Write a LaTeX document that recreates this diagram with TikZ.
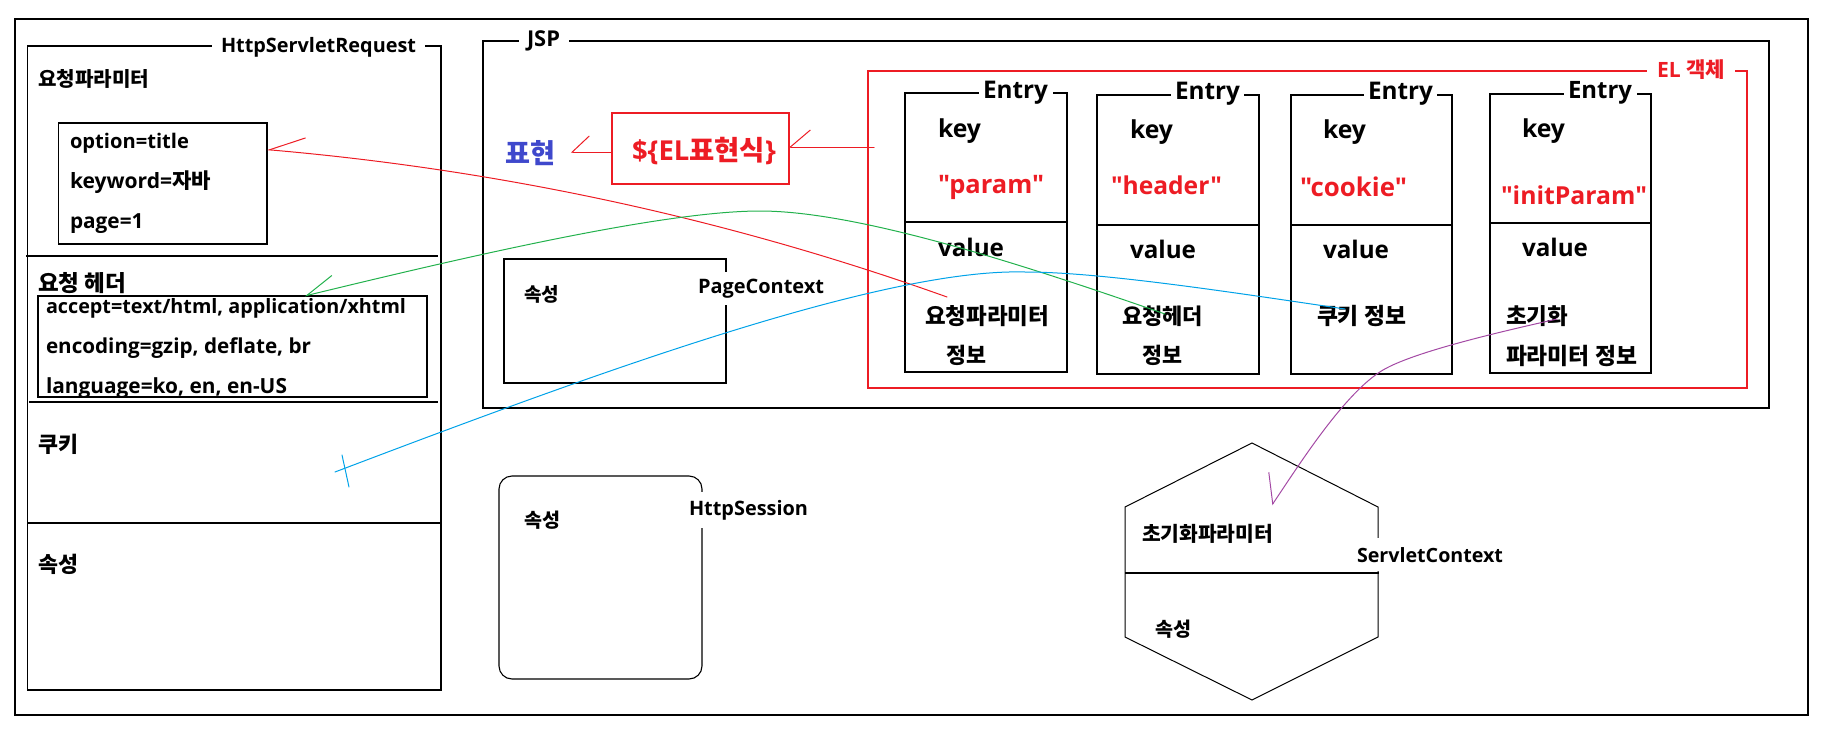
\documentclass[tikz,border=0pt]{standalone}
\usepackage{fontspec}
\usepackage{graphicx}
\newfontfamily\lat{Open Sans}
\newfontfamily\krfont{Noto Sans CJK KR}
\usetikzlibrary{arrows.meta,calc}
\definecolor{elred}{HTML}{ED1C24}
\definecolor{elblue}{HTML}{3F48CC}
\definecolor{elgreen}{HTML}{22B14C}
\definecolor{elcyan}{HTML}{00A2E8}
\definecolor{elpurple}{HTML}{A349A4}
\newcommand{\fitw}[2]{\resizebox{#1pt}{!}{#2}}
\newcommand{\hk}[1]{{\krfont #1}}
\tikzset{
  barbP/.tip={Straight Barb[right, length=35pt, width=30pt]},
  barbG/.tip={Straight Barb[right, length=29pt, width=27pt]},
  barbV/.tip={Straight Barb[right, length=24pt, width=42pt]},
  barbX/.tip={Straight Barb[right, length=17pt, width=32pt]},
  barbE/.tip={Straight Barb[right, length=20pt, width=34pt]},
}
\begin{document}
\begin{tikzpicture}[x=1pt,y=-1pt,
  box/.style={draw=black, line width=1.3pt, inner sep=0pt, outer sep=0pt, anchor=north west},
  redbox/.style={box, draw=elred, line width=1.1pt},
  divider/.style={draw=black, line width=1.3pt},
  txt/.style={inner sep=0pt, outer sep=0pt, anchor=base west, font=\lat\bfseries},
  krtxt/.style={txt, font=\krfont\bfseries},
  boxtitle/.style={fill=white, inner ysep=2pt, outer sep=0pt, anchor=base, font=\lat\bfseries},
  wire/.style={line width=1pt, line cap=round, line join=round},
]
\useasboundingbox (0,0) rectangle (1828,736);
% ---------- boxes ----------
\node[box, minimum width=1793pt, minimum height=696pt] (outer) at (15,19) {};
\node[box, minimum width=413.4pt, minimum height=644pt] (req) at (27.6,46) {};
\draw[divider] (26,256) -- (438,256);
\draw[divider] (29,402) -- (438,402);
\draw[divider] (req.west |- 0,523) -- (req.east |- 0,523);
\node[box, minimum width=208.5pt, minimum height=121pt] (params) at (58.5,123) {};
\node[box, minimum width=389pt, minimum height=101pt] (hdr) at (38,296) {};
\node[box, minimum width=1286pt, minimum height=367pt] (jsp) at (483,41) {};
\node[redbox, minimum width=177pt, minimum height=71pt] (elexpr) at (612,113) {};
\node[box, minimum width=222pt, minimum height=124pt] (page) at (504,259) {};
\node[redbox, minimum width=879pt, minimum height=317pt] (elobj) at (868,71) {};
\node[box, minimum width=162pt, minimum height=279pt] (e1) at (905,93) {};
\node[box, minimum width=162pt, minimum height=279pt] (e2) at (1097,95) {};
\node[box, minimum width=161pt, minimum height=279pt] (e3) at (1291,95) {};
\node[box, minimum width=161pt, minimum height=279pt] (e4) at (1490,94) {};
\draw[divider] (e1.west |- 0,222) -- (e1.east |- 0,222);
\draw[divider] (e2.west |- 0,225) -- (e2.east |- 0,225);
\draw[divider] (e3.west |- 0,225) -- (e3.east |- 0,225);
\draw[divider] (e4.west |- 0,223) -- (e4.east |- 0,223);
\node[box, rounded corners=13pt, line width=1.1pt, minimum width=203pt, minimum height=203pt] (sess) at (499,476) {};
\coordinate (hxT) at (1252,443);
\coordinate (hxUL) at (1125,507);
\coordinate (hxUR) at (1378,507);
\coordinate (hxLL) at (1125,637);
\coordinate (hxLR) at (1378,637);
\coordinate (hxB) at (1252,700);
\draw[line width=1pt, line join=miter] (hxT) -- (hxUR) -- (hxLR) -- (hxB) -- (hxLL) -- (hxUL) -- cycle;
% ---------- box titles ----------
\node[boxtitle, inner xsep=9pt] (reqT) at (318.5,52.5) {\fitw{195}{HttpServletRequest}};
\node[boxtitle, inner xsep=8.5pt] (jspT) at (543.5,46) {\fitw{33}{JSP}};
\node[boxtitle, inner xsep=10pt, text=elred] (elobjT) at (1691,77) {\fitw{68}{EL \hk{객체}}};
\node[boxtitle, inner xsep=4.5pt] (e1T) at (1015.5,98) {\fitw{65}{Entry}};
\node[boxtitle, inner xsep=4pt] (e2T) at (1207.5,99) {\fitw{65}{Entry}};
\node[boxtitle, inner xsep=4pt] (e3T) at (1400.5,99) {\fitw{65}{Entry}};
\node[boxtitle, inner xsep=4.5pt] (e4T) at (1600,98) {\fitw{64}{Entry}};
\node[boxtitle, inner xsep=3pt, inner ysep=7pt] (pageT) at (761,293) {\fitw{126}{PageContext}};
\node[boxtitle, inner xsep=3pt, inner ysep=8pt] (sessT) at (748.5,515) {\fitw{119}{HttpSession}};
\node[boxtitle, inner xsep=3pt, inner ysep=9pt] (scT) at (1430,562) {\fitw{146}{ServletContext}};
\draw[divider] (hxUL |- 0,573) -- (1379,573);
% ---------- HttpServletRequest texts ----------
\node[krtxt] (reqParam) at (38,86) {\fitw{111}{요청파라미터}};
\node[txt] (p1) at (70,148) {\fitw{119}{option=title}};
\node[txt] (p2) at (70,188) {\fitw{141}{keyword=\hk{자바}}};
\node[txt] (p3) at (70,228) {\fitw{73.5}{page=1}};
\node[krtxt] (reqHdr) at (38,291) {\fitw{88}{요청 헤더}};
\node[txt] (h1) at (46,313) {\fitw{360}{accept=text/html, application/xhtml}};
\node[txt] (h2) at (46,353) {\fitw{265}{encoding=gzip, deflate, br}};
\node[txt] (h3) at (46,393) {\fitw{241}{language=ko, en, en-US}};
\node[krtxt] (reqCookie) at (38,452) {\fitw{40}{쿠키}};
\node[krtxt] (reqAttr) at (38,572) {\fitw{40}{속성}};
% ---------- JSP texts ----------
\node[krtxt, text=elblue] (pyo) at (505,163) {\fitw{50}{표현}};
\node[txt, text=elred] (elx) at (632,160) {\fitw{144}{\$\{EL\hk{표현식}\}}};
\node[krtxt] (pageAttr) at (524,301) {\fitw{35}{속성}};
\node[txt] (k1) at (938,137) {\fitw{43}{key}};
\node[txt] (k2) at (1130,138) {\fitw{43}{key}};
\node[txt] (k3) at (1323,138) {\fitw{43}{key}};
\node[txt] (k4) at (1522,137) {\fitw{43}{key}};
\node[txt, text=elred] (q1) at (938,193) {\fitw{106}{"param"}};
\node[txt, text=elred] (q2) at (1111,194) {\fitw{111}{"header"}};
\node[txt, text=elred] (q3) at (1300,196) {\fitw{107}{"cookie"}};
\node[txt, text=elred] (q4) at (1501,204) {\fitw{146}{"initParam"}};
\node[txt] (val1) at (938,256) {\fitw{66}{value}};
\node[txt] (val2) at (1130,258) {\fitw{66}{value}};
\node[txt] (val3) at (1323,258) {\fitw{66}{value}};
\node[txt] (val4) at (1522,256) {\fitw{66}{value}};
\node[krtxt] (v1) at (925,324) {\fitw{124}{요청파라미터}};
\node[krtxt] (v1b) at (946,363) {\fitw{40}{정보}};
\node[krtxt] (v2) at (1122,324) {\fitw{81}{요청헤더}};
\node[krtxt] (v2b) at (1142,363) {\fitw{40}{정보}};
\node[krtxt] (v3) at (1317,324) {\fitw{89}{쿠키 정보}};
\node[krtxt] (v4) at (1506,324) {\fitw{62}{초기화}};
\node[krtxt] (v4b) at (1506,364) {\fitw{131}{파라미터 정보}};
% ---------- session / servlet context texts ----------
\node[krtxt] (sessAttr) at (524,527) {\fitw{36}{속성}};
\node[krtxt] (scInit) at (1142,541) {\fitw{131}{초기화파라미터}};
\node[krtxt] (scAttr) at (1155,636) {\fitw{36}{속성}};
% ---------- connectors ----------
\coordinate (pyoTip) at (571,152);
\draw[wire, elred, -{barbX}] (elexpr.west |- pyoTip) -- (pyoTip);
\draw[wire, elred, -{barbE}] ([xshift=6pt]elobj.west |- 0,147) -- (elexpr.east |- 0,147);
\coordinate (rS) at (947,297);
\draw[wire, elred, -{barbP}] (rS) .. controls (729,219) and (502,170) .. (params.18.3);
\coordinate (gS) at (1165,314);
\draw[wire, elgreen, -{barbG}] (gS) .. controls (1030,267) and (860,211) .. (760,211)
  .. controls (660,211) and (453,260) .. (hdr.35.6);
\coordinate (bS) at (1345,309);
\coordinate (bE) at (335,472);
\draw[wire, elcyan] (bS) .. controls (1230,292) and (1100,272) .. (1025,272)
  .. controls (880,268) and (585,377) .. (bE);
\draw[wire, elcyan] ($(bE)+(7,-17)$) -- ($(bE)+(14,15)$);
\coordinate (pS) at (1557,319);
\coordinate (pE) at (1272,505);
\draw[wire, elpurple, -{barbV}] (pS) .. controls (1518,328) and (1417,350) .. (1383,370)
  .. controls (1344,393) and (1297,468) .. (pE);
\end{tikzpicture}
\end{document}
